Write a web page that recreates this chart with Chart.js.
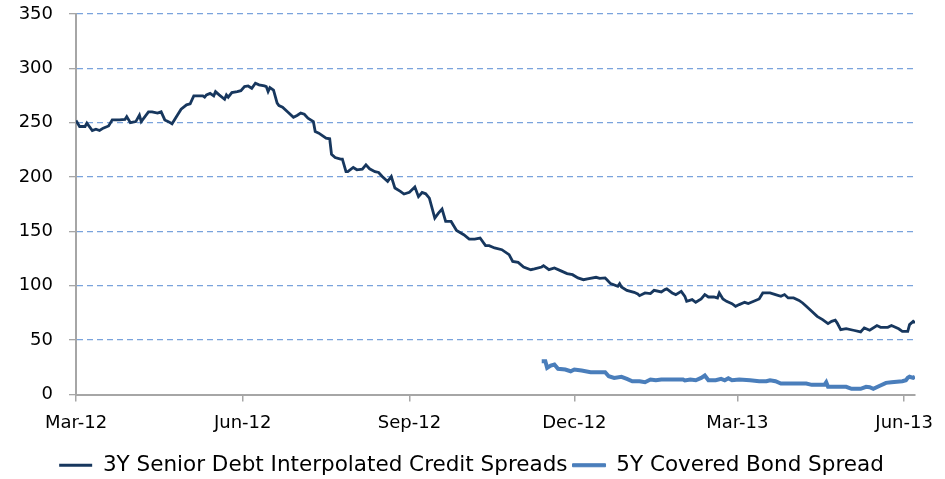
<!DOCTYPE html>
<html>
<head>
<meta charset="utf-8">
<script src="https://cdn.jsdelivr.net/npm/chart.js@4.4.1/dist/chart.umd.min.js"></script>
<style>
  html, body { margin: 0; padding: 0; background: #fff; }
  #wrap { width: 945px; height: 479px; position: relative; }
</style>
</head>
<body>
<div id="wrap"><canvas id="spreadChart"></canvas></div>
<script>
// Month ticks on the date axis
var tickDates = ['2012-03-01', '2012-06-01', '2012-09-01', '2012-12-01', '2013-03-01', '2013-06-01'];
var tickLabels = ['Mar-12', 'Jun-12', 'Sep-12', 'Dec-12', 'Mar-13', 'Jun-13'];
var axisStart = '2012-03-01';
var axisEnd = '2013-06-07';

// 3Y Senior Debt Interpolated Credit Spreads (bp)
var seniorDates = [
  '2012-03-01','2012-03-03','2012-03-06','2012-03-07','2012-03-10','2012-03-12','2012-03-14','2012-03-16','2012-03-19','2012-03-21',
  '2012-03-25','2012-03-28','2012-03-29','2012-03-31','2012-04-03','2012-04-05','2012-04-06','2012-04-10','2012-04-12','2012-04-15',
  '2012-04-17','2012-04-19','2012-04-21','2012-04-23','2012-04-26','2012-04-28','2012-05-01','2012-05-03','2012-05-05','2012-05-10',
  '2012-05-11','2012-05-12','2012-05-14','2012-05-16','2012-05-17','2012-05-19','2012-05-22','2012-05-23','2012-05-24','2012-05-26',
  '2012-05-29','2012-05-31','2012-06-02','2012-06-04','2012-06-06','2012-06-08','2012-06-10','2012-06-13','2012-06-14','2012-06-15',
  '2012-06-16','2012-06-18','2012-06-20','2012-06-21','2012-06-23','2012-06-26','2012-06-29','2012-07-01','2012-07-03','2012-07-05',
  '2012-07-07','2012-07-10','2012-07-11','2012-07-13','2012-07-17','2012-07-19','2012-07-20','2012-07-22','2012-07-25','2012-07-26',
  '2012-07-28','2012-07-29','2012-08-01','2012-08-03','2012-08-06','2012-08-08','2012-08-10','2012-08-13','2012-08-15','2012-08-17',
  '2012-08-20','2012-08-22','2012-08-24','2012-08-27','2012-08-29','2012-09-01','2012-09-04','2012-09-06','2012-09-08','2012-09-10',
  '2012-09-12','2012-09-15','2012-09-17','2012-09-19','2012-09-21','2012-09-24','2012-09-27','2012-10-01','2012-10-04','2012-10-07',
  '2012-10-10','2012-10-13','2012-10-15','2012-10-18','2012-10-22','2012-10-26','2012-10-28','2012-10-31','2012-11-03','2012-11-07',
  '2012-11-09','2012-11-13','2012-11-14','2012-11-17','2012-11-20','2012-11-23','2012-11-27','2012-11-30','2012-12-03','2012-12-06',
  '2012-12-09','2012-12-13','2012-12-15','2012-12-18','2012-12-19','2012-12-21','2012-12-25','2012-12-26','2012-12-27','2012-12-30',
  '2013-01-03','2013-01-05','2013-01-06','2013-01-09','2013-01-12','2013-01-14','2013-01-18','2013-01-20','2013-01-21','2013-01-24',
  '2013-01-26','2013-01-29','2013-01-31','2013-02-01','2013-02-04','2013-02-06','2013-02-09','2013-02-11','2013-02-13','2013-02-16',
  '2013-02-18','2013-02-19','2013-02-21','2013-02-23','2013-02-26','2013-02-28','2013-03-02','2013-03-05','2013-03-07','2013-03-10',
  '2013-03-13','2013-03-15','2013-03-19','2013-03-22','2013-03-25','2013-03-27','2013-03-29','2013-04-01','2013-04-04','2013-04-06',
  '2013-04-08','2013-04-11','2013-04-14','2013-04-17','2013-04-20','2013-04-22','2013-04-24','2013-04-25','2013-04-27','2013-04-30',
  '2013-05-04','2013-05-08','2013-05-10','2013-05-13','2013-05-17','2013-05-19','2013-05-23','2013-05-25','2013-05-29','2013-05-31',
  '2013-06-03','2013-06-04','2013-06-06','2013-06-07'
];
var seniorValues = [
  252, 246.5, 246.5, 249.6, 242.8, 244, 242.8, 245, 247, 252.6,
  252.6, 253, 255.6, 250, 251, 257, 251, 260, 260, 258.8,
  260, 252.6, 251, 249, 257, 262.4, 266.4, 267.3, 274.7, 274.7,
  273.5, 275.6, 277, 274.7, 278.6, 275.6, 271.6, 275.6, 273.5, 277.7,
  278.6, 279.5, 283.2, 283.8, 281.7, 286.3, 284.8, 283.8, 283.2, 278.6,
  282.3, 280, 268, 265.7, 264.3, 259.7, 255, 256.6, 258.8, 257.8,
  254.2, 251, 241.9, 240.4, 235.8, 235.2, 221, 218, 216.5, 216.5,
  205, 205, 208.8, 206.7, 207.3, 211.3, 207.6, 205, 204.2, 200.5,
  196, 200.5, 189.9, 186.8, 184.4, 186, 190.8, 182, 185.8, 184.6,
  180.7, 162.3, 166.9, 170.6, 159.2, 159.2, 150.9, 147, 143, 143,
  143.9, 136.9, 136.9, 134.8, 133.2, 128.6, 122.4, 121.5, 117.3, 114.8,
  115.5, 117.3, 118.5, 114.8, 116.4, 114.2, 111.2, 110.2, 107.2, 105.6,
  106.6, 107.8, 106.8, 107.2, 105.6, 102, 99.5, 102, 98.9, 95.8,
  94, 92.5, 90.9, 93.4, 92.8, 95.8, 94.3, 96.5, 97.1, 93.4,
  91.9, 94.9, 90.3, 85.7, 87.3, 84.8, 87.9, 91.9, 89.7, 89.7,
  88.8, 93.4, 87.9, 85.7, 83.6, 81.1, 82.7, 84.8, 83.6, 85.7,
  87.9, 93.4, 93.4, 91.9, 90.3, 91.9, 88.8, 88.8, 86.6, 84.2,
  81.1, 76.5, 71.9, 68.9, 65.2, 67.3, 68.3, 65.9, 59.7, 60.6,
  59.1, 57.6, 61.3, 59.1, 63.4, 61.8, 61.8, 63.4, 60.4, 58.1,
  58.1, 64.3, 67.3, 65.9
];

// 5Y Covered Bond Spread (bp)
var coveredDates = [
  '2012-11-13','2012-11-15','2012-11-16','2012-11-18','2012-11-20','2012-11-22','2012-11-26','2012-11-29','2012-12-01','2012-12-05',
  '2012-12-10','2012-12-14','2012-12-18','2012-12-20','2012-12-23','2012-12-27','2012-12-30','2013-01-02','2013-01-06','2013-01-09',
  '2013-01-12','2013-01-15','2013-01-18','2013-01-24','2013-01-30','2013-01-31','2013-02-03','2013-02-06','2013-02-09','2013-02-11',
  '2013-02-13','2013-02-17','2013-02-20','2013-02-22','2013-02-24','2013-02-26','2013-03-02','2013-03-08','2013-03-13','2013-03-17',
  '2013-03-19','2013-03-22','2013-03-25','2013-03-31','2013-04-08','2013-04-11','2013-04-18','2013-04-19','2013-04-20','2013-04-24',
  '2013-04-30','2013-05-03','2013-05-08','2013-05-11','2013-05-13','2013-05-15','2013-05-18','2013-05-22','2013-05-25','2013-05-28',
  '2013-05-31','2013-06-02','2013-06-03','2013-06-04','2013-06-06','2013-06-07'
];
var coveredValues = [
  30.6, 30.6, 24.5, 26.6, 27.6, 23.6, 23, 21.4, 23, 22,
  20.5, 20.5, 20.5, 16.8, 15.3, 16.3, 14.4, 12.2, 12.2, 11.3,
  13.8, 13.1, 13.8, 13.8, 13.8, 12.9, 13.8, 13.1, 15.3, 17.5,
  13.1, 13.1, 14.4, 13.1, 15, 13.1, 13.8, 13.1, 12.2, 12.2,
  13.1, 12.2, 10.1, 10.1, 10.1, 8.9, 8.9, 11.3, 7.1, 7.1,
  7.1, 5.2, 5.2, 7.1, 6.7, 5.2, 7.6, 10.7, 11.3, 11.7,
  12.2, 13.1, 15.3, 16.3, 15.3, 16.3
];

// days since the axis start, so the x axis behaves like Excel's date axis
function dayNum(s) {
  var p = s.split('-');
  var a = axisStart.split('-');
  return (Date.UTC(+p[0], p[1] - 1, +p[2]) - Date.UTC(+a[0], a[1] - 1, +a[2])) / 86400000;
}

function toPoints(dates, values) {
  return dates.map(function(d, i) { return { x: dayNum(d), y: values[i] }; });
}

var tickDays = tickDates.map(dayNum);
var FONT = '"DejaVu Sans", sans-serif';
var AXIS_GREY = '#a6a6a6';

var ctx = document.getElementById('spreadChart').getContext('2d');
var spreadChart = new Chart(ctx, {
  type: 'line',
  data: {
    datasets: [
      {
        label: '3Y Senior Debt Interpolated Credit Spreads',
        data: toPoints(seniorDates, seniorValues),
        borderColor: '#17375e',
        backgroundColor: '#17375e',
        borderWidth: 2.8,
        pointRadius: 0,
        tension: 0
      },
      {
        label: '5Y Covered Bond Spread',
        data: toPoints(coveredDates, coveredValues),
        borderColor: '#4a7ebb',
        backgroundColor: '#4a7ebb',
        borderWidth: 4,
        pointRadius: 0,
        tension: 0
      }
    ]
  },
  options: {
    responsive: true,
    maintainAspectRatio: false,
    animation: false,
    layout: { padding: { top: 14, right: 2, left: 0, bottom: -7 } },
    plugins: {
      tooltip: { enabled: false },
      legend: {
        position: 'bottom',
        labels: {
          boxWidth: 33,
          boxHeight: 3,
          padding: 5,
          color: '#000',
          font: { family: FONT, size: 21.5 },
          // thin line swatches: the covered bond one a bit thicker
          generateLabels: function(chart) {
            return Chart.defaults.plugins.legend.labels.generateLabels(chart).map(function(item, i) {
              item.lineWidth = i === 1 ? 1 : 0;
              return item;
            });
          }
        }
      }
    },
    scales: {
      x: {
        type: 'linear',
        min: 0,
        max: dayNum(axisEnd),
        afterBuildTicks: function(axis) {
          axis.ticks = tickDays.map(function(v) { return { value: v }; });
        },
        afterFit: function(axis) {
          axis.height = 55;
          // room on the right of the plot without shifting the legend
          axis.paddingRight = 30;
        },
        ticks: {
          autoSkip: false,
          maxRotation: 0,
          padding: 11,
          color: '#000',
          font: { family: FONT, size: 18 },
          callback: function(value) {
            var i = tickDays.indexOf(value);
            return i >= 0 ? tickLabels[i] : '';
          }
        },
        grid: {
          drawOnChartArea: false,
          drawTicks: true,
          tickLength: 7,
          color: AXIS_GREY,
          tickColor: AXIS_GREY,
          lineWidth: 1.5
        },
        border: { display: true, color: AXIS_GREY, width: 2 }
      },
      y: {
        min: 0,
        max: 350,
        afterFit: function(axis) {
          axis.width = 76;
          // keep the label padding from pushing the plot area down
          axis.paddingTop = 0;
          axis.paddingBottom = 0;
        },
        ticks: {
          stepSize: 50,
          padding: 16,
          color: '#000',
          font: { family: FONT, size: 18 }
        },
        grid: {
          drawTicks: true,
          tickLength: 7,
          color: function(c) { return c.tick && c.tick.value === 0 ? 'rgba(0,0,0,0)' : '#7aa3dc'; },
          tickColor: AXIS_GREY,
          tickBorderDash: [],
          lineWidth: 1.3
        },
        // in v4 border.dash is what dashes the grid lines
        border: { display: true, color: AXIS_GREY, width: 2, dash: [6, 4] }
      }
    }
  }
});
</script>
</body>
</html>
